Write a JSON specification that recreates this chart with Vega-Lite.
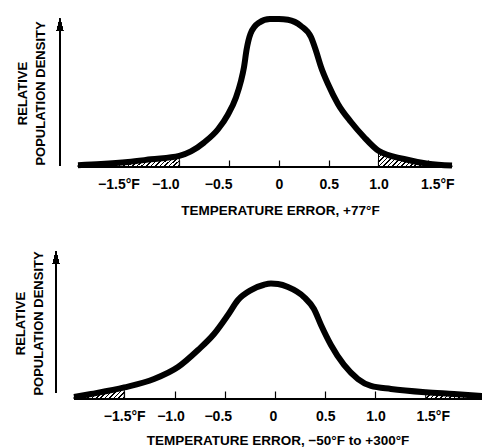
{
  "$schema": "https://vega.github.io/schema/vega-lite/v6.json",
  "autosize": {"type": "pad"},
  "padding": {"left": 13, "top": 7, "right": 0, "bottom": 0},
  "background": "white",
  "bounds": "flush",
  "spacing": 84,
  "config": {"view": {"stroke": null}},
  "datasets": {
    "top": [
      {"t": -2.017, "d": 0.012}, {"t": -1.786, "d": 0.02}, {"t": -1.515, "d": 0.034}, {"t": -1.284, "d": 0.052},
      {"t": -1.0, "d": 0.075}, {"t": -0.883, "d": 0.105}, {"t": -0.752, "d": 0.165}, {"t": -0.611, "d": 0.255},
      {"t": -0.511, "d": 0.355}, {"t": -0.431, "d": 0.47}, {"t": -0.381, "d": 0.58}, {"t": -0.35, "d": 0.676},
      {"t": -0.325, "d": 0.79}, {"t": -0.285, "d": 0.9}, {"t": -0.2, "d": 0.975}, {"t": -0.09, "d": 1.0},
      {"t": 0.0, "d": 1.0}, {"t": 0.091, "d": 0.995}, {"t": 0.222, "d": 0.953}, {"t": 0.322, "d": 0.878},
      {"t": 0.373, "d": 0.784}, {"t": 0.423, "d": 0.676}, {"t": 0.493, "d": 0.561}, {"t": 0.593, "d": 0.426},
      {"t": 0.724, "d": 0.304}, {"t": 0.854, "d": 0.203}, {"t": 1.0, "d": 0.11}, {"t": 1.256, "d": 0.054},
      {"t": 1.497, "d": 0.022}, {"t": 1.738, "d": 0.01}
    ],
    "bottom": [
      {"t": -2.0, "d": 0.014}, {"t": -1.831, "d": 0.034}, {"t": -1.5, "d": 0.078}, {"t": -1.204, "d": 0.135},
      {"t": -0.965, "d": 0.216}, {"t": -0.766, "d": 0.331}, {"t": -0.607, "d": 0.439}, {"t": -0.468, "d": 0.568},
      {"t": -0.368, "d": 0.669}, {"t": -0.239, "d": 0.736}, {"t": -0.109, "d": 0.772}, {"t": -0.04, "d": 0.78},
      {"t": 0.03, "d": 0.777}, {"t": 0.129, "d": 0.757}, {"t": 0.289, "d": 0.689}, {"t": 0.388, "d": 0.608},
      {"t": 0.458, "d": 0.5}, {"t": 0.557, "d": 0.365}, {"t": 0.687, "d": 0.23}, {"t": 0.826, "d": 0.135},
      {"t": 0.955, "d": 0.088}, {"t": 1.154, "d": 0.068}, {"t": 1.5, "d": 0.046}, {"t": 1.781, "d": 0.034},
      {"t": 2.07, "d": 0.02}
    ]
  },
  "vconcat": [
    {
      "width": 401,
      "height": 148,
      "data": {"name": "top"},
      "encoding": {
        "x": {
          "field": "t", "type": "quantitative",
          "scale": {"domain": [-2.288, 1.738], "nice": false, "zero": false},
          "axis": {
            "values": [-1.5, -1, -0.5, 0, 0.5, 1, 1.5],
            "labelExpr": "datum.value == -1.5 ? '−1.5°F' : datum.value == 1.5 ? '1.5°F' : datum.value == 0 ? '0' : datum.value < 0 ? '−' + format(-datum.value, '.1f') : format(datum.value, '.1f')",
            "domain": false, "grid": false,
            "tickSize": -7, "tickWidth": 1.2, "tickColor": "black",
            "labelFont": "Liberation Sans", "labelFontSize": 14, "labelFontWeight": "bold", "labelColor": "black",
            "labelPadding": 17, "labelFlush": false, "labelOverlap": false,
            "labelOffset": {"condition": [
              {"test": "datum.value == -1.5", "value": -11},
              {"test": "datum.value == -1", "value": -14},
              {"test": "datum.value == -0.5", "value": -11},
              {"test": "datum.value == 1.5", "value": 9}
            ], "value": 0},
            "title": "TEMPERATURE ERROR, +77°F",
            "titleFont": "Liberation Sans", "titleFontSize": 13.5, "titleFontWeight": "bold", "titleColor": "black",
            "titleX": 229, "titleY": 43, "titleAlign": "center", "titleBaseline": "middle"
          }
        },
        "y": {
          "field": "d", "type": "quantitative",
          "scale": {"domain": [0, 1], "nice": false, "zero": false},
          "axis": {
            "labels": false, "ticks": false, "domain": false, "grid": false,
            "title": ["RELATIVE", "POPULATION DENSITY"],
            "titleFont": "Liberation Sans", "titleFontSize": 13, "titleFontWeight": "bold", "titleColor": "black",
            "titleAngle": 270, "titleX": -25, "titleY": 74, "titleAlign": "center", "titleBaseline": "alphabetic",
            "titleLineHeight": 18.5
          }
        }
      },
      "layer": [
        {
          "transform": [{"filter": "datum.t <= -1.0"}],
          "mark": {
            "type": "area", "interpolate": "monotone", "stroke": "black", "strokeWidth": 1,
            "fill": {"gradient": "linear", "x1": 0, "y1": 0, "x2": 1.104, "y2": 0.1325, "stops": [
              {"offset": 0, "color": "#fff"},
              {"offset": 0.012, "color": "#fff"}, {"offset": 0.012, "color": "#000"}, {"offset": 0.026, "color": "#000"}, {"offset": 0.026, "color": "#fff"},
              {"offset": 0.052, "color": "#fff"}, {"offset": 0.052, "color": "#000"}, {"offset": 0.066, "color": "#000"}, {"offset": 0.066, "color": "#fff"},
              {"offset": 0.092, "color": "#fff"}, {"offset": 0.092, "color": "#000"}, {"offset": 0.106, "color": "#000"}, {"offset": 0.106, "color": "#fff"},
              {"offset": 0.132, "color": "#fff"}, {"offset": 0.132, "color": "#000"}, {"offset": 0.146, "color": "#000"}, {"offset": 0.146, "color": "#fff"},
              {"offset": 0.172, "color": "#fff"}, {"offset": 0.172, "color": "#000"}, {"offset": 0.186, "color": "#000"}, {"offset": 0.186, "color": "#fff"},
              {"offset": 0.212, "color": "#fff"}, {"offset": 0.212, "color": "#000"}, {"offset": 0.226, "color": "#000"}, {"offset": 0.226, "color": "#fff"},
              {"offset": 0.252, "color": "#fff"}, {"offset": 0.252, "color": "#000"}, {"offset": 0.266, "color": "#000"}, {"offset": 0.266, "color": "#fff"},
              {"offset": 0.292, "color": "#fff"}, {"offset": 0.292, "color": "#000"}, {"offset": 0.306, "color": "#000"}, {"offset": 0.306, "color": "#fff"},
              {"offset": 0.332, "color": "#fff"}, {"offset": 0.332, "color": "#000"}, {"offset": 0.346, "color": "#000"}, {"offset": 0.346, "color": "#fff"},
              {"offset": 0.372, "color": "#fff"}, {"offset": 0.372, "color": "#000"}, {"offset": 0.386, "color": "#000"}, {"offset": 0.386, "color": "#fff"},
              {"offset": 0.412, "color": "#fff"}, {"offset": 0.412, "color": "#000"}, {"offset": 0.426, "color": "#000"}, {"offset": 0.426, "color": "#fff"},
              {"offset": 0.452, "color": "#fff"}, {"offset": 0.452, "color": "#000"}, {"offset": 0.466, "color": "#000"}, {"offset": 0.466, "color": "#fff"},
              {"offset": 0.492, "color": "#fff"}, {"offset": 0.492, "color": "#000"}, {"offset": 0.506, "color": "#000"}, {"offset": 0.506, "color": "#fff"},
              {"offset": 0.532, "color": "#fff"}, {"offset": 0.532, "color": "#000"}, {"offset": 0.546, "color": "#000"}, {"offset": 0.546, "color": "#fff"},
              {"offset": 0.572, "color": "#fff"}, {"offset": 0.572, "color": "#000"}, {"offset": 0.586, "color": "#000"}, {"offset": 0.586, "color": "#fff"},
              {"offset": 0.612, "color": "#fff"}, {"offset": 0.612, "color": "#000"}, {"offset": 0.626, "color": "#000"}, {"offset": 0.626, "color": "#fff"},
              {"offset": 0.652, "color": "#fff"}, {"offset": 0.652, "color": "#000"}, {"offset": 0.666, "color": "#000"}, {"offset": 0.666, "color": "#fff"},
              {"offset": 0.692, "color": "#fff"}, {"offset": 0.692, "color": "#000"}, {"offset": 0.706, "color": "#000"}, {"offset": 0.706, "color": "#fff"},
              {"offset": 0.732, "color": "#fff"}, {"offset": 0.732, "color": "#000"}, {"offset": 0.746, "color": "#000"}, {"offset": 0.746, "color": "#fff"},
              {"offset": 0.772, "color": "#fff"}, {"offset": 0.772, "color": "#000"}, {"offset": 0.786, "color": "#000"}, {"offset": 0.786, "color": "#fff"},
              {"offset": 0.812, "color": "#fff"}, {"offset": 0.812, "color": "#000"}, {"offset": 0.826, "color": "#000"}, {"offset": 0.826, "color": "#fff"},
              {"offset": 0.852, "color": "#fff"}, {"offset": 0.852, "color": "#000"}, {"offset": 0.866, "color": "#000"}, {"offset": 0.866, "color": "#fff"},
              {"offset": 0.892, "color": "#fff"}, {"offset": 0.892, "color": "#000"}, {"offset": 0.906, "color": "#000"}, {"offset": 0.906, "color": "#fff"},
              {"offset": 0.932, "color": "#fff"}, {"offset": 0.932, "color": "#000"}, {"offset": 0.946, "color": "#000"}, {"offset": 0.946, "color": "#fff"},
              {"offset": 0.972, "color": "#fff"}, {"offset": 0.972, "color": "#000"}, {"offset": 0.986, "color": "#000"}, {"offset": 0.986, "color": "#fff"},
              {"offset": 1, "color": "#fff"}
            ]}
          }
        },
        {
          "transform": [{"filter": "datum.t >= 1.0"}],
          "mark": {
            "type": "area", "interpolate": "monotone", "stroke": "black", "strokeWidth": 1,
            "fill": {"gradient": "linear", "x1": 0, "y1": 0, "x2": 1.164, "y2": 0.256, "stops": [
              {"offset": 0, "color": "#fff"},
              {"offset": 0.015, "color": "#fff"}, {"offset": 0.015, "color": "#000"}, {"offset": 0.033, "color": "#000"}, {"offset": 0.033, "color": "#fff"},
              {"offset": 0.065, "color": "#fff"}, {"offset": 0.065, "color": "#000"}, {"offset": 0.083, "color": "#000"}, {"offset": 0.083, "color": "#fff"},
              {"offset": 0.115, "color": "#fff"}, {"offset": 0.115, "color": "#000"}, {"offset": 0.133, "color": "#000"}, {"offset": 0.133, "color": "#fff"},
              {"offset": 0.165, "color": "#fff"}, {"offset": 0.165, "color": "#000"}, {"offset": 0.183, "color": "#000"}, {"offset": 0.183, "color": "#fff"},
              {"offset": 0.215, "color": "#fff"}, {"offset": 0.215, "color": "#000"}, {"offset": 0.233, "color": "#000"}, {"offset": 0.233, "color": "#fff"},
              {"offset": 0.265, "color": "#fff"}, {"offset": 0.265, "color": "#000"}, {"offset": 0.283, "color": "#000"}, {"offset": 0.283, "color": "#fff"},
              {"offset": 0.315, "color": "#fff"}, {"offset": 0.315, "color": "#000"}, {"offset": 0.333, "color": "#000"}, {"offset": 0.333, "color": "#fff"},
              {"offset": 0.365, "color": "#fff"}, {"offset": 0.365, "color": "#000"}, {"offset": 0.383, "color": "#000"}, {"offset": 0.383, "color": "#fff"},
              {"offset": 0.415, "color": "#fff"}, {"offset": 0.415, "color": "#000"}, {"offset": 0.433, "color": "#000"}, {"offset": 0.433, "color": "#fff"},
              {"offset": 0.465, "color": "#fff"}, {"offset": 0.465, "color": "#000"}, {"offset": 0.483, "color": "#000"}, {"offset": 0.483, "color": "#fff"},
              {"offset": 0.515, "color": "#fff"}, {"offset": 0.515, "color": "#000"}, {"offset": 0.533, "color": "#000"}, {"offset": 0.533, "color": "#fff"},
              {"offset": 0.565, "color": "#fff"}, {"offset": 0.565, "color": "#000"}, {"offset": 0.583, "color": "#000"}, {"offset": 0.583, "color": "#fff"},
              {"offset": 0.615, "color": "#fff"}, {"offset": 0.615, "color": "#000"}, {"offset": 0.633, "color": "#000"}, {"offset": 0.633, "color": "#fff"},
              {"offset": 0.665, "color": "#fff"}, {"offset": 0.665, "color": "#000"}, {"offset": 0.683, "color": "#000"}, {"offset": 0.683, "color": "#fff"},
              {"offset": 0.715, "color": "#fff"}, {"offset": 0.715, "color": "#000"}, {"offset": 0.733, "color": "#000"}, {"offset": 0.733, "color": "#fff"},
              {"offset": 0.765, "color": "#fff"}, {"offset": 0.765, "color": "#000"}, {"offset": 0.783, "color": "#000"}, {"offset": 0.783, "color": "#fff"},
              {"offset": 0.815, "color": "#fff"}, {"offset": 0.815, "color": "#000"}, {"offset": 0.833, "color": "#000"}, {"offset": 0.833, "color": "#fff"},
              {"offset": 0.865, "color": "#fff"}, {"offset": 0.865, "color": "#000"}, {"offset": 0.883, "color": "#000"}, {"offset": 0.883, "color": "#fff"},
              {"offset": 0.915, "color": "#fff"}, {"offset": 0.915, "color": "#000"}, {"offset": 0.933, "color": "#000"}, {"offset": 0.933, "color": "#fff"},
              {"offset": 0.965, "color": "#fff"}, {"offset": 0.965, "color": "#000"}, {"offset": 0.983, "color": "#000"}, {"offset": 0.983, "color": "#fff"},
              {"offset": 1, "color": "#fff"}
            ]}
          }
        },
        {
          "mark": {"type": "rule", "color": "black", "strokeWidth": 1.5},
          "encoding": {"x": {"datum": -2.017}, "x2": {"datum": 1.738}, "y": {"datum": 0}}
        },
        {
          "mark": {"type": "line", "interpolate": "monotone", "color": "black", "strokeWidth": 6}
        },
        {
          "mark": {"type": "rule", "color": "black", "strokeWidth": 1.5},
          "encoding": {"x": {"datum": -2.198}, "y": {"datum": 0.007}, "y2": {"datum": 0.95}}
        },
        {
          "mark": {"type": "point", "shape": "M0,-1L0.5,1L-0.5,1Z", "size": 169, "filled": true, "color": "black", "opacity": 1, "strokeWidth": 0},
          "encoding": {"x": {"datum": -2.198}, "y": {"datum": 0.963}}
        }
      ]
    },
    {
      "width": 432,
      "height": 148,
      "data": {"name": "bottom"},
      "encoding": {
        "x": {
          "field": "t", "type": "quantitative",
          "scale": {"domain": [-2.229, 2.07], "nice": false, "zero": false},
          "axis": {
            "values": [-1.5, -1, -0.5, 0, 0.5, 1, 1.5],
            "labelExpr": "datum.value == -1.5 ? '−1.5°F' : datum.value == 1.5 ? '1.5°F' : datum.value == 0 ? '0' : datum.value < 0 ? '−' + format(-datum.value, '.1f') : format(datum.value, '.1f')",
            "domain": false, "grid": false,
            "tickSize": -8, "tickWidth": 1.2, "tickColor": "black",
            "labelFont": "Liberation Sans", "labelFontSize": 14, "labelFontWeight": "bold", "labelColor": "black",
            "labelPadding": 18, "labelFlush": false, "labelOverlap": false,
            "labelOffset": {"condition": [
              {"test": "datum.value == -1", "value": -4},
              {"test": "datum.value == -0.5", "value": -7},
              {"test": "datum.value == 0", "value": -2},
              {"test": "datum.value == 1.5", "value": 7}
            ], "value": 0},
            "title": "TEMPERATURE ERROR, −50°F to +300°F",
            "titleFont": "Liberation Sans", "titleFontSize": 13.5, "titleFontWeight": "bold", "titleColor": "black",
            "titleX": 226.5, "titleY": 41, "titleAlign": "center", "titleBaseline": "middle"
          }
        },
        "y": {
          "field": "d", "type": "quantitative",
          "scale": {"domain": [0, 1], "nice": false, "zero": false},
          "axis": {
            "labels": false, "ticks": false, "domain": false, "grid": false,
            "title": ["RELATIVE", "POPULATION DENSITY"],
            "titleFont": "Liberation Sans", "titleFontSize": 13, "titleFontWeight": "bold", "titleColor": "black",
            "titleAngle": 270, "titleX": -27, "titleY": 72, "titleAlign": "center", "titleBaseline": "alphabetic",
            "titleLineHeight": 18.5
          }
        }
      },
      "layer": [
        {
          "transform": [{"filter": "datum.t <= -1.5"}],
          "mark": {
            "type": "area", "interpolate": "monotone", "stroke": "black", "strokeWidth": 1,
            "fill": {"gradient": "linear", "x1": 0, "y1": 0, "x2": 1.168, "y2": 0.269, "stops": [
              {"offset": 0, "color": "#fff"},
              {"offset": 0.02, "color": "#fff"}, {"offset": 0.02, "color": "#000"}, {"offset": 0.045, "color": "#000"}, {"offset": 0.045, "color": "#fff"},
              {"offset": 0.091, "color": "#fff"}, {"offset": 0.091, "color": "#000"}, {"offset": 0.116, "color": "#000"}, {"offset": 0.116, "color": "#fff"},
              {"offset": 0.163, "color": "#fff"}, {"offset": 0.163, "color": "#000"}, {"offset": 0.188, "color": "#000"}, {"offset": 0.188, "color": "#fff"},
              {"offset": 0.234, "color": "#fff"}, {"offset": 0.234, "color": "#000"}, {"offset": 0.259, "color": "#000"}, {"offset": 0.259, "color": "#fff"},
              {"offset": 0.306, "color": "#fff"}, {"offset": 0.306, "color": "#000"}, {"offset": 0.331, "color": "#000"}, {"offset": 0.331, "color": "#fff"},
              {"offset": 0.377, "color": "#fff"}, {"offset": 0.377, "color": "#000"}, {"offset": 0.402, "color": "#000"}, {"offset": 0.402, "color": "#fff"},
              {"offset": 0.449, "color": "#fff"}, {"offset": 0.449, "color": "#000"}, {"offset": 0.474, "color": "#000"}, {"offset": 0.474, "color": "#fff"},
              {"offset": 0.52, "color": "#fff"}, {"offset": 0.52, "color": "#000"}, {"offset": 0.545, "color": "#000"}, {"offset": 0.545, "color": "#fff"},
              {"offset": 0.591, "color": "#fff"}, {"offset": 0.591, "color": "#000"}, {"offset": 0.616, "color": "#000"}, {"offset": 0.616, "color": "#fff"},
              {"offset": 0.663, "color": "#fff"}, {"offset": 0.663, "color": "#000"}, {"offset": 0.688, "color": "#000"}, {"offset": 0.688, "color": "#fff"},
              {"offset": 0.734, "color": "#fff"}, {"offset": 0.734, "color": "#000"}, {"offset": 0.759, "color": "#000"}, {"offset": 0.759, "color": "#fff"},
              {"offset": 0.806, "color": "#fff"}, {"offset": 0.806, "color": "#000"}, {"offset": 0.831, "color": "#000"}, {"offset": 0.831, "color": "#fff"},
              {"offset": 0.877, "color": "#fff"}, {"offset": 0.877, "color": "#000"}, {"offset": 0.902, "color": "#000"}, {"offset": 0.902, "color": "#fff"},
              {"offset": 0.949, "color": "#fff"}, {"offset": 0.949, "color": "#000"}, {"offset": 0.974, "color": "#000"}, {"offset": 0.974, "color": "#fff"},
              {"offset": 1, "color": "#fff"}
            ]}
          }
        },
        {
          "transform": [{"filter": "datum.t >= 1.5"}],
          "mark": {
            "type": "area", "interpolate": "monotone", "stroke": "black", "strokeWidth": 1,
            "fill": {"gradient": "linear", "x1": 0, "y1": 0, "x2": 1.104, "y2": 0.1325, "stops": [
              {"offset": 0, "color": "#fff"},
              {"offset": 0.02, "color": "#fff"}, {"offset": 0.02, "color": "#000"}, {"offset": 0.045, "color": "#000"}, {"offset": 0.045, "color": "#fff"},
              {"offset": 0.091, "color": "#fff"}, {"offset": 0.091, "color": "#000"}, {"offset": 0.116, "color": "#000"}, {"offset": 0.116, "color": "#fff"},
              {"offset": 0.163, "color": "#fff"}, {"offset": 0.163, "color": "#000"}, {"offset": 0.188, "color": "#000"}, {"offset": 0.188, "color": "#fff"},
              {"offset": 0.234, "color": "#fff"}, {"offset": 0.234, "color": "#000"}, {"offset": 0.259, "color": "#000"}, {"offset": 0.259, "color": "#fff"},
              {"offset": 0.306, "color": "#fff"}, {"offset": 0.306, "color": "#000"}, {"offset": 0.331, "color": "#000"}, {"offset": 0.331, "color": "#fff"},
              {"offset": 0.377, "color": "#fff"}, {"offset": 0.377, "color": "#000"}, {"offset": 0.402, "color": "#000"}, {"offset": 0.402, "color": "#fff"},
              {"offset": 0.449, "color": "#fff"}, {"offset": 0.449, "color": "#000"}, {"offset": 0.474, "color": "#000"}, {"offset": 0.474, "color": "#fff"},
              {"offset": 0.52, "color": "#fff"}, {"offset": 0.52, "color": "#000"}, {"offset": 0.545, "color": "#000"}, {"offset": 0.545, "color": "#fff"},
              {"offset": 0.591, "color": "#fff"}, {"offset": 0.591, "color": "#000"}, {"offset": 0.616, "color": "#000"}, {"offset": 0.616, "color": "#fff"},
              {"offset": 0.663, "color": "#fff"}, {"offset": 0.663, "color": "#000"}, {"offset": 0.688, "color": "#000"}, {"offset": 0.688, "color": "#fff"},
              {"offset": 0.734, "color": "#fff"}, {"offset": 0.734, "color": "#000"}, {"offset": 0.759, "color": "#000"}, {"offset": 0.759, "color": "#fff"},
              {"offset": 0.806, "color": "#fff"}, {"offset": 0.806, "color": "#000"}, {"offset": 0.831, "color": "#000"}, {"offset": 0.831, "color": "#fff"},
              {"offset": 0.877, "color": "#fff"}, {"offset": 0.877, "color": "#000"}, {"offset": 0.902, "color": "#000"}, {"offset": 0.902, "color": "#fff"},
              {"offset": 0.949, "color": "#fff"}, {"offset": 0.949, "color": "#000"}, {"offset": 0.974, "color": "#000"}, {"offset": 0.974, "color": "#fff"},
              {"offset": 1, "color": "#fff"}
            ]}
          }
        },
        {
          "mark": {"type": "rule", "color": "black", "strokeWidth": 1.5},
          "encoding": {"x": {"datum": -2.0}, "x2": {"datum": 2.07}, "y": {"datum": 0}}
        },
        {
          "mark": {"type": "line", "interpolate": "monotone", "color": "black", "strokeWidth": 6}
        },
        {
          "mark": {"type": "rule", "color": "black", "strokeWidth": 1.5},
          "encoding": {"x": {"datum": -2.179}, "y": {"datum": 0.04}, "y2": {"datum": 0.945}}
        },
        {
          "mark": {"type": "point", "shape": "M0,-1L0.5,1L-0.5,1Z", "size": 169, "filled": true, "color": "black", "opacity": 1, "strokeWidth": 0},
          "encoding": {"x": {"datum": -2.179}, "y": {"datum": 0.956}}
        }
      ]
    }
  ]
}
